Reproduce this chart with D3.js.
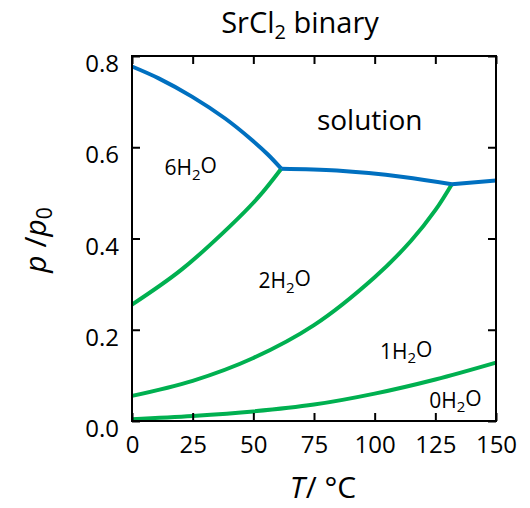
<!DOCTYPE html>
<html>
<head>
<meta charset="utf-8">
<script src="https://cdn.jsdelivr.net/npm/d3@7"></script>
<style>
body{margin:0;background:#fff;}
text{font-family:"Open Sans",sans-serif;fill:#000;}
</style>
</head>
<body>
<svg width="530" height="508"></svg>
<script>
(()=>{

//ticks
let tempTicks = [0,25,50,75,100,125,150];
let pTicks = [0,0.2,0.4,0.6,0.8];

//boundaries: T in °C, p/p0
//solution | 6H2O
let sol6T = [0, 11, 24.7, 38.4, 49.4, 56.2, 61.5];
let sol6P = [0.777, 0.751, 0.711, 0.663, 0.616, 0.583, 0.553];
//solution | 2H2O
let sol2T = [61.5, 84.4, 111.8, 131.8];
let sol2P = [0.553, 0.549, 0.535, 0.519];
//solution | 1H2O
let sol1T = [131.8, 150];
let sol1P = [0.519, 0.527];
//6H2O | 2H2O
let h6h2T = [0, 20, 40, 52, 61.5];
let h6h2P = [0.255, 0.330, 0.425, 0.490, 0.553];
//2H2O | 1H2O
let h2h1T = [0, 25, 50, 75, 100, 115, 125, 131.8];
let h2h1P = [0.055, 0.088, 0.138, 0.210, 0.315, 0.395, 0.462, 0.519];
//1H2O | 0H2O
let h1h0T = [0, 25, 50, 75, 100, 125, 150];
let h1h0P = [0.004, 0.011, 0.021, 0.036, 0.060, 0.091, 0.128];

//region labels: hydrate number, left edge T, baseline p
let phaseN = ["6","2","1","0"];
let phaseT = [13.4, 52.1, 102.2, 122.5];
let phaseP = [0.539, 0.2915, 0.136, 0.0285];

let svg = d3.select("svg");
let margin = {top:56, right:34, bottom:87, left:132};
let w = 530-margin.left-margin.right,
	h = 508-margin.top-margin.bottom;

let x = d3.scaleLinear().domain([0,150]).range([margin.left, margin.left+w]);
let y = d3.scaleLinear().domain([0,0.8]).range([margin.top+h, margin.top]);

//curves
let line = d3.line()
	.x(d => x(d[0]))
	.y(d => y(d[1]))
	.curve(d3.curveCatmullRom.alpha(0.5));

function zip(ts, ps){ return ts.map((t,i) => [t, ps[i]]); }

let greens = [zip(h6h2T,h6h2P), zip(h2h1T,h2h1P), zip(h1h0T,h1h0P)];
let blues = [zip(sol6T,sol6P), zip(sol2T,sol2P), zip(sol1T,sol1P)];

svg.selectAll(".green")
	.data(greens)
	.enter().append("path")
	.attr("class","green")
	.attr("d", line)
	.attr("fill","none")
	.attr("stroke","#00B050")
	.attr("stroke-width",4);

svg.selectAll(".blue")
	.data(blues)
	.enter().append("path")
	.attr("class","blue")
	.attr("d", line)
	.attr("fill","none")
	.attr("stroke","#0070C0")
	.attr("stroke-width",4)
	.attr("stroke-linejoin","round");

//frame
svg.append("rect")
	.attr("x", x(0)).attr("y", y(0.8))
	.attr("width", x(150)-x(0)).attr("height", y(0)-y(0.8))
	.attr("fill","none").attr("stroke","#000").attr("stroke-width",2);

//axes, ticks pointing inward on all sides
function styleAxis(g){
	g.select(".domain").remove();
	g.selectAll(".tick line").attr("stroke","#000").attr("stroke-width",2);
	g.selectAll(".tick text").attr("font-family","'Open Sans',sans-serif").attr("font-size",24).attr("fill","#000");
}

svg.append("g")
	.attr("transform","translate(0,"+y(0)+")")
	.call(d3.axisBottom(x).tickValues(tempTicks).tickSizeInner(-8).tickSizeOuter(0).tickPadding(15))
	.call(styleAxis);

svg.append("g")
	.attr("transform","translate("+x(0)+",0)")
	.call(d3.axisLeft(y).tickValues(pTicks).tickFormat(d3.format(".1f")).tickSizeInner(-8).tickSizeOuter(0).tickPadding(13))
	.call(styleAxis)
	.selectAll(".tick text").attr("dy","0.65em");

svg.append("g")
	.attr("transform","translate(0,"+y(0.8)+")")
	.call(d3.axisTop(x).tickValues(tempTicks).tickFormat("").tickSizeInner(-8).tickSizeOuter(0))
	.call(styleAxis);

svg.append("g")
	.attr("transform","translate("+x(150)+",0)")
	.call(d3.axisRight(y).tickValues(pTicks).tickFormat("").tickSizeInner(-8).tickSizeOuter(0))
	.call(styleAxis);

//region labels
phaseN.forEach((n,i) => {
	let t = svg.append("text")
		.attr("x", x(phaseT[i]))
		.attr("y", y(phaseP[i]))
		.attr("font-size",21);
	t.append("tspan").text(n+"H");
	t.append("tspan").text("2").attr("font-size",15).attr("dy","0.3em");
	t.append("tspan").text("O").attr("dy","-0.3em");
});

svg.append("text")
	.attr("x", x(76.2))
	.attr("y", y(0.638))
	.attr("font-size",28)
	.text("solution");

//title
let title = svg.append("text")
	.attr("x", 300).attr("y", 33)
	.attr("text-anchor","middle")
	.attr("font-size",29);
title.append("tspan").text("SrCl");
title.append("tspan").text("2").attr("font-size",20).attr("baseline-shift","-0.3em");
title.append("tspan").text(" binary");

//axis titles
let xt = svg.append("text")
	.attr("x", 323).attr("y", 498)
	.attr("text-anchor","middle")
	.attr("font-size",30);
xt.append("tspan").text("T").attr("font-style","italic");
xt.append("tspan").text("/ °C").attr("dx",1);

let yt = svg.append("text")
	.attr("transform","translate(46,240) rotate(-90)")
	.attr("text-anchor","middle")
	.attr("font-size",30);
yt.append("tspan").text("p").attr("font-style","italic");
yt.append("tspan").text(" /");
yt.append("tspan").text("p").attr("font-style","italic");
yt.append("tspan").text("0").attr("font-size",21).attr("dy","0.3em");

})();
</script>
</body>
</html>
